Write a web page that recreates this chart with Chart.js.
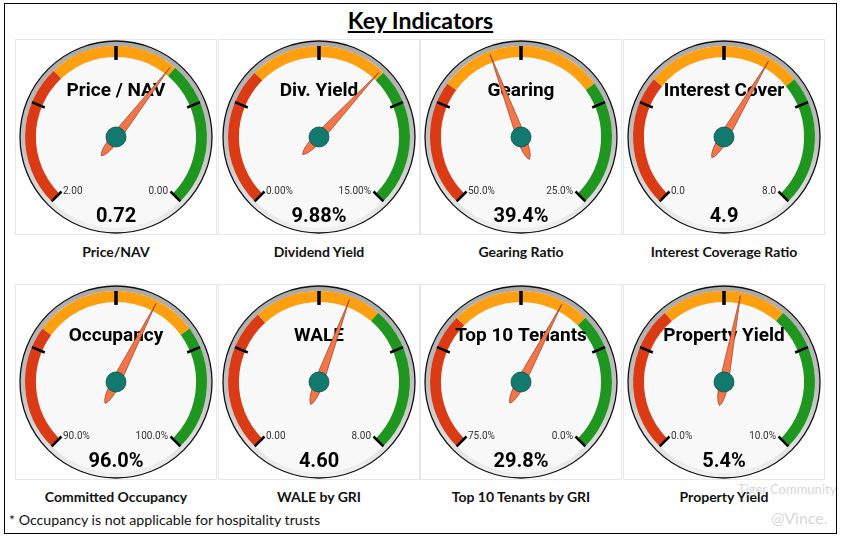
<!DOCTYPE html>
<html>
<head>
<meta charset="utf-8">
<script src="https://cdn.jsdelivr.net/npm/chart.js@4"></script>
<style>
  body { margin: 0; background: #fff; width: 841px; height: 537px; overflow: hidden; position: relative; font-family: Lato, sans-serif; }
  #frame { position: absolute; left: 4px; top: 3px; width: 831px; height: 529px; border: 1px solid #000; }
  #title { position: absolute; left: 0; width: 841px; top: 6px; text-align: center; font: bold 23px Lato; color: #000; text-decoration: underline; }
  .panel { position: absolute; width: 200px; height: 194px; border: 1px solid #e4e8ee; background: #fff; }
  .cap { position: absolute; width: 202px; text-align: center; font: bold 14px Lato; color: #111; line-height: 16px; }
  #note { position: absolute; left: 9px; top: 511px; font: 14.2px Lato; color: #111; }
  .wm { position: absolute; color: rgba(150,150,150,0.4); font-family: Lato; }
</style>
</head>
<body>
<div id="frame"></div>
<div id="title">Key Indicators</div>
<div id="note">* Occupancy is not applicable for hospitality trusts</div>

<script>
// Gauge data
const titles = ['Price / NAV', 'Div. Yield', 'Gearing', 'Interest Cover', 'Occupancy', 'WALE', 'Top 10 Tenants', 'Property Yield'];
const captions = ['Price/NAV', 'Dividend Yield', 'Gearing Ratio', 'Interest Coverage Ratio', 'Committed Occupancy', 'WALE by GRI', 'Top 10 Tenants by GRI', 'Property Yield'];
const values = [0.72, 9.88, 39.4, 4.9, 96.0, 4.60, 29.8, 5.4];
const valueLabels = ['0.72', '9.88%', '39.4%', '4.9', '96.0%', '4.60', '29.8%', '5.4%'];
const scaleMin = [2, 0, 50, 0, 90, 0, 75, 0];
const scaleMax = [0, 15, 25, 8, 100, 8, 0, 10];
const minLabels = ['2.00', '0.00%', '50.0%', '0.0', '90.0%', '0.00', '75.0%', '0.0%'];
const maxLabels = ['0.00', '15.00%', '25.0%', '8.0', '100.0%', '8.00', '0.0%', '10.0%'];
const redEnd = [1.32, 5, 42.5, 2.5, 93, 2.75, 50, 3.5];
const greenStart = [0.7, 10, 32.5, 5.5, 97, 5.2, 25, 6.5];

const RED = '#db3b14', ORANGE = '#fd9f0e', GREEN = '#1e961f';

// positions of the panels
const colLeft = [15, 218, 420, 623];
const rowTop = [39, 284];

const gaugePlugin = {
  id: 'gauge',
  beforeDatasetsDraw(chart) {
    const arc = chart.getDatasetMeta(0).data[0];
    const { x, y, outerRadius } = arc;
    const c = chart.ctx;
    const R = outerRadius + 5;
    c.save();
    const g = c.createLinearGradient(0, y - R, 0, y + R);
    g.addColorStop(0, '#a9a9a9');
    g.addColorStop(0.55, '#c2c2c2');
    g.addColorStop(1, '#f2f2f2');
    c.beginPath();
    c.arc(x, y, R, 0, 2 * Math.PI);
    c.fillStyle = g;
    c.fill();
    c.lineWidth = 1.3;
    c.strokeStyle = '#111';
    c.stroke();
    c.beginPath();
    c.arc(x, y, outerRadius, 0, 2 * Math.PI);
    c.fillStyle = '#f8f8f8';
    c.fill();
    c.restore();
  },
  afterDatasetsDraw(chart, args, opts) {
    const i = opts.index;
    const meta = chart.getDatasetMeta(0);
    const { x, y, outerRadius: ro, innerRadius: ri } = meta.data[0];
    const a0 = meta.data[0].startAngle, a1 = meta.data[2].endAngle;
    const ang = f => a0 + f * (a1 - a0);
    const c = chart.ctx;
    c.save();

    // ticks
    [0, 0.25, 0.5, 0.75, 1].forEach(f => {
      const a = ang(f);
      c.beginPath();
      c.moveTo(x + ro * Math.cos(a), y + ro * Math.sin(a));
      c.lineTo(x + (ri - 3) * Math.cos(a), y + (ri - 3) * Math.sin(a));
      c.lineWidth = f === 0.5 ? 3.5 : 2.5;
      c.strokeStyle = '#000';
      c.stroke();
    });

    // min / max labels
    c.fillStyle = '#333';
    c.font = '10px Roboto';
    c.textBaseline = 'alphabetic';
    c.textAlign = 'left';
    c.fillText(minLabels[i], x - 53, y + 57);
    c.textAlign = 'right';
    c.fillText(maxLabels[i], x + 52, y + 57);

    // title and value
    c.fillStyle = '#000';
    c.textAlign = 'center';
    c.font = 'bold 19px Roboto';
    c.fillText(titles[i], x, y - 41);
    c.font = 'bold 20px Roboto';
    c.fillText(valueLabels[i], x, y + 85);

    // needle
    const f = (values[i] - scaleMin[i]) / (scaleMax[i] - scaleMin[i]);
    const a = ang(f);
    c.translate(x, y);
    c.rotate(a);
    c.beginPath();
    c.moveTo(ro - 3, 0);
    c.lineTo(0, 4.5);
    c.quadraticCurveTo(-20, 4.5, -24, 0);
    c.quadraticCurveTo(-20, -4.5, 0, -4.5);
    c.closePath();
    c.fillStyle = '#f47548';
    c.fill();
    c.lineWidth = 0.6;
    c.strokeStyle = '#8a3b1e';
    c.stroke();
    c.setTransform(1, 0, 0, 1, 0, 0);
    c.restore();

    // hub
    c.save();
    c.beginPath();
    c.arc(x, y, 10, 0, 2 * Math.PI);
    c.fillStyle = '#11796d';
    c.fill();
    c.lineWidth = 0.8;
    c.strokeStyle = '#0b4f49';
    c.stroke();
    c.restore();
  }
};

titles.forEach((t, i) => {
  const left = colLeft[i % 4], top = rowTop[Math.floor(i / 4)];
  const panel = document.createElement('div');
  panel.className = 'panel';
  panel.style.left = left + 'px';
  panel.style.top = top + 'px';
  const canvas = document.createElement('canvas');
  canvas.width = 200;
  canvas.height = 194;
  panel.appendChild(canvas);
  document.body.appendChild(panel);

  const cap = document.createElement('div');
  cap.className = 'cap';
  cap.style.left = left + 'px';
  cap.style.top = (top + 205) + 'px';
  cap.textContent = captions[i];
  document.body.appendChild(cap);

  const span = Math.abs(scaleMax[i] - scaleMin[i]);
  const bands = [
    Math.abs(redEnd[i] - scaleMin[i]),
    Math.abs(greenStart[i] - redEnd[i]),
    Math.abs(scaleMax[i] - greenStart[i]),
    span / 3
  ];

  new Chart(canvas.getContext('2d'), {
    type: 'doughnut',
    data: {
      labels: ['low', 'mid', 'high', ''],
      datasets: [{
        data: bands,
        backgroundColor: [RED, ORANGE, GREEN, 'rgba(0,0,0,0)'],
        borderWidth: 0
      }]
    },
    options: {
      responsive: false,
      animation: false,
      events: [],
      rotation: -135,
      circumference: 360,
      cutout: '88%',
      layout: { padding: 6 },
      plugins: {
        legend: { display: false },
        tooltip: { enabled: false },
        gauge: { index: i }
      }
    },
    plugins: [gaugePlugin]
  });
});

// watermark
const wm1 = document.createElement('div');
wm1.className = 'wm';
wm1.style.cssText += 'left:738px;top:481px;font-size:13px;';
wm1.textContent = 'Tiger Community';
document.body.appendChild(wm1);
const wm2 = document.createElement('div');
wm2.className = 'wm';
wm2.style.cssText += 'left:771px;top:508px;font-size:16px;';
wm2.textContent = '@Vince.';
document.body.appendChild(wm2);
</script>
</body>
</html>
